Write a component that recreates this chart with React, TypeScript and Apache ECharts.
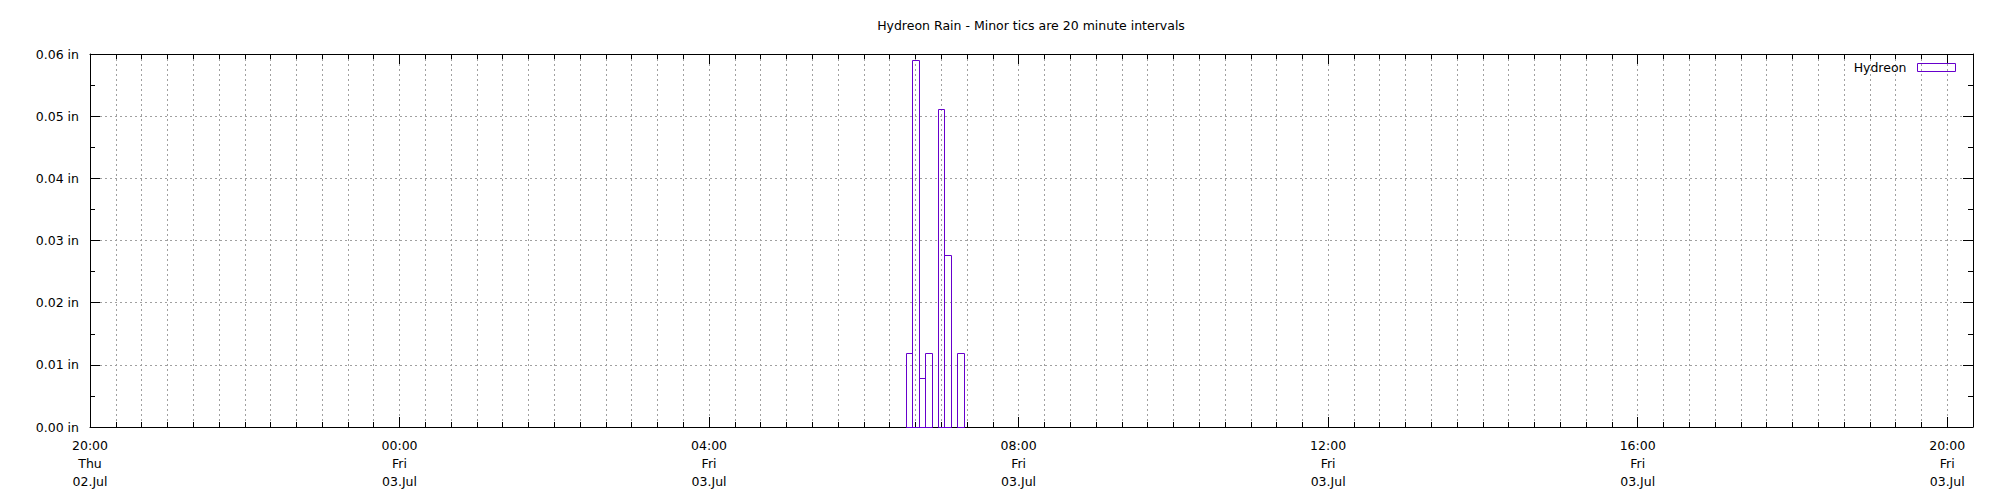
import React, { useEffect, useRef } from "react";
import * as echarts from "echarts";

// ---- data ----
const chartTitle = "Hydreon Rain - Minor tics are 20 minute intervals";
const seriesName = "Hydreon";
// 5-minute bin centre times, all on Fri 03.Jul (day index 1)
const binDay = 1;
const binTimes = ["06:35", "06:40", "06:45", "06:50", "07:00", "07:05", "07:15"];
const rainInches = [0.0119, 0.0591, 0.0079, 0.0119, 0.0512, 0.0276, 0.0119];
const binMinutes = 5;
// day labels, index = days after Thu 02.Jul
const dayNames = ["Thu", "Fri"];
const dayDates = ["02.Jul", "03.Jul"];
// x range: Thu 20:00 -> Fri 20:20
const xStart = { day: 0, time: "20:00" };
const xEnd = { day: 1, time: "20:20" };
const majorMinutes = 240; // 4 hours
const minorMinutes = 20;
const yMax = 0.06;
const yStep = 0.01;

// ---- style ----
const FONT = "DejaVu Sans";
const FS = 12.5;
const PURPLE = "#6600cc";
const GRID_GRAY = "#a0a0a0";

const toMin = (day: number, hhmm: string) => {
  const [h, m] = hhmm.split(":").map(Number);
  return day * 1440 + h * 60 + m;
};
const pad2 = (n: number) => (n < 10 ? "0" + n : "" + n);

const xMin = toMin(xStart.day, xStart.time);
const xMax = toMin(xEnd.day, xEnd.time);

export default function App() {
  const ref = useRef<HTMLDivElement>(null);

  useEffect(() => {
    if (!ref.current) return;
    const chart = echarts.init(ref.current, undefined, { renderer: "svg" });

    const data = binTimes.map((t, i) => [toMin(binDay, t), rainInches[i]]);

    const tickLine = { color: "#000", width: 1 };
    const baseX = {
      type: "value",
      min: xMin,
      max: xMax,
      axisLine: { show: false, onZero: false, lineStyle: tickLine },
      axisLabel: { show: false },
      splitLine: { show: false },
    };

    const option: any = {
      animation: false,
      backgroundColor: "#fff",
      title: {
        text: chartTitle,
        left: 1031,
        top: 18,
        textAlign: "center",
        padding: 0,
        textStyle: {
          fontFamily: FONT,
          fontSize: FS,
          fontWeight: "normal",
          color: "#000",
          lineHeight: 15,
        },
      },
      legend: {
        right: 44,
        top: 60,
        padding: 0,
        align: "right",
        itemWidth: 38,
        itemHeight: 8,
        selectedMode: false,
        textStyle: {
          fontFamily: FONT,
          fontSize: FS,
          color: "#000",
          lineHeight: 15,
          padding: [0, 6, 0, 0],
        },
        data: [
          {
            name: seriesName,
            icon: "rect",
            itemStyle: { color: "rgba(0,0,0,0)", borderColor: PURPLE, borderWidth: 1 },
          },
        ],
      },
      grid: {
        left: 90,
        right: 27,
        top: 54,
        bottom: 73,
        containLabel: false,
        outerBoundsMode: "none",
      },
      xAxis: [
        {
          ...baseX,
          position: "bottom",
          interval: majorMinutes,
          axisLine: { show: true, onZero: false, lineStyle: tickLine },
          axisTick: { show: true, inside: true, length: 10, lineStyle: tickLine },
          axisLabel: {
            show: true,
            margin: 9,
            lineHeight: 18,
            fontFamily: FONT,
            fontSize: FS,
            color: "#000",
            showMaxLabel: false,
            hideOverlap: false,
            formatter: (v: number) => {
              const day = Math.floor(v / 1440);
              const rem = v - day * 1440;
              const h = Math.floor(rem / 60);
              const m = rem % 60;
              return `${pad2(h)}:${pad2(m)}\n${dayNames[day]}\n${dayDates[day]}`;
            },
          },
        },
        {
          ...baseX,
          position: "bottom",
          interval: minorMinutes,
          axisTick: { show: true, inside: true, length: 5, lineStyle: tickLine },
          splitLine: {
            show: true,
            lineStyle: { color: GRID_GRAY, width: 1, type: [2, 3] },
          },
        },
        {
          ...baseX,
          position: "top",
          interval: majorMinutes,
          axisLine: { show: true, onZero: false, lineStyle: tickLine },
          axisTick: { show: true, inside: true, length: 10, lineStyle: tickLine },
        },
        {
          ...baseX,
          position: "top",
          interval: minorMinutes,
          axisTick: { show: true, inside: true, length: 5, lineStyle: tickLine },
        },
      ],
      yAxis: [
        {
          type: "value",
          position: "left",
          min: 0,
          max: yMax,
          interval: yStep,
          axisLine: { show: true, onZero: false, lineStyle: tickLine },
          axisTick: { show: true, inside: true, length: 10, lineStyle: tickLine },
          minorTick: { show: true, splitNumber: 2, length: 5, lineStyle: tickLine },
          axisLabel: {
            margin: 11,
            fontFamily: FONT,
            fontSize: FS,
            color: "#000",
            formatter: (v: number) => v.toFixed(2) + " in",
          },
          splitLine: {
            show: true,
            lineStyle: { color: GRID_GRAY, width: 1, type: [2, 3] },
          },
        },
        {
          type: "value",
          position: "right",
          min: 0,
          max: yMax,
          interval: yStep,
          axisLine: { show: true, onZero: false, lineStyle: tickLine },
          axisTick: { show: true, inside: true, length: 10, lineStyle: tickLine },
          minorTick: { show: true, splitNumber: 2, length: 5, lineStyle: tickLine },
          axisLabel: { show: false },
          splitLine: { show: false },
        },
      ],
      series: [
        {
          name: seriesName,
          type: "custom",
          xAxisIndex: 0,
          yAxisIndex: 0,
          encode: { x: 0, y: 1 },
          itemStyle: { color: PURPLE },
          data,
          renderItem: (params: any, api: any) => {
            const t = api.value(0);
            const v = api.value(1);
            const p0 = api.coord([t - binMinutes / 2, v]);
            const p1 = api.coord([t + binMinutes / 2, 0]);
            const x0 = Math.round(p0[0]) + 0.5;
            const x1 = Math.round(p1[0]) + 0.5;
            const y0 = Math.round(p0[1]) + 0.5;
            const y1 = Math.round(p1[1]) + 0.5;
            return {
              type: "rect",
              shape: { x: x0, y: y0, width: x1 - x0, height: y1 - y0 },
              style: { fill: "none", stroke: PURPLE, lineWidth: 1 },
            };
          },
        },
      ],
    };

    chart.setOption(option);
    return () => chart.dispose();
  }, []);

  return (
    <div
      ref={ref}
      style={{ position: "absolute", left: 0, top: 0, width: 2000, height: 500 }}
    />
  );
}
